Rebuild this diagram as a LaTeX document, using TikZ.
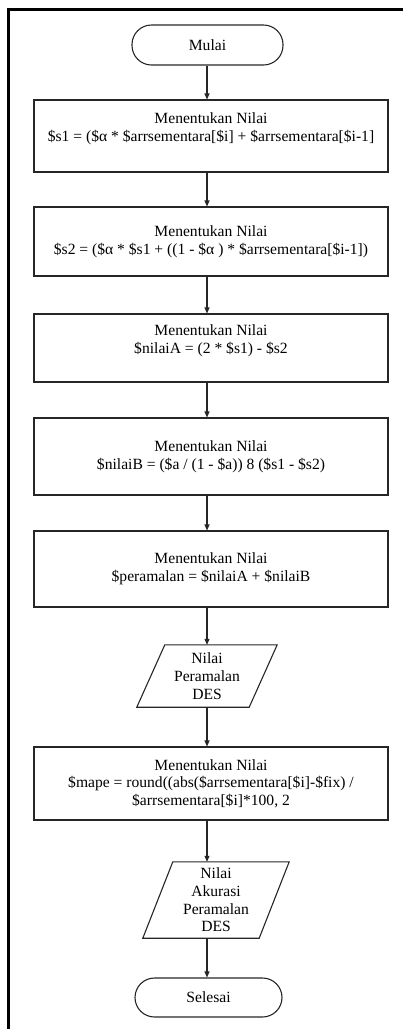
\documentclass[tikz,border=0pt]{standalone}
\usepackage{fontspec}
\setmainfont{Liberation Serif}
\usetikzlibrary{arrows.meta,calc}
\begin{document}
\begin{tikzpicture}[x=1pt,y=-1pt,
  every node/.style={font=\fontsize{15.6}{17.7}\selectfont, inner sep=0pt, align=center, text=black},
  proc/.style={draw=black!85, line width=1.1pt, minimum width=354pt},
  term/.style={draw=black!85, line width=1.1pt, rounded corners=19.5pt},
  pline/.style={draw=black!85, line width=1.1pt},
  arr/.style={draw=black!85, line width=1.1pt, -{Triangle[length=6pt,width=5pt]}},
]
\useasboundingbox (0,0) rectangle (406,1029);
\draw[line width=3pt] (8,1029) -- (8,9) -- (403,9);
\coordinate (ax) at (207,0);

\node[term, minimum width=151pt, minimum height=40pt] (mulai) at (207.5,45) {Mulai};
\node[proc, minimum height=72pt] (b1) at (211,136) {Menentukan Nilai\\ \$s1 = (\$α * \$arrsementara[\$i] + \$arrsementara[\$i-1]\\ ~};
\node[proc, minimum height=69pt] (b2) at (211,241.5) {Menentukan Nilai\\ \$s2 = (\$α * \$s1 + ((1 - \$α ) * \$arrsementara[\$i-1])};
\node[proc, minimum height=68pt] (b3) at (211,348) {Menentukan Nilai\\ \$nilaiA = (2 * \$s1) - \$s2\\ ~};
\node[proc, minimum height=77pt] (b4) at (211,456.5) {Menentukan Nilai\\ \$nilaiB = (\$a / (1 - \$a)) 8 (\$s1 - \$s2)};
\node[proc, minimum height=76pt] (b5) at (211,569) {Menentukan Nilai\\ \$peramalan = \$nilaiA + \$nilaiB};
\node[minimum width=112pt, minimum height=62pt] (p1) at (207,676) {Nilai\\ Peramalan\\ DES};
\draw[pline] ([xshift=-14pt]p1.south west) -- ([xshift=-14pt]p1.south east) -- ([xshift=14pt]p1.north east) -- ([xshift=14pt]p1.north west) -- cycle;
\node[proc, minimum height=73pt] (b6) at (211,783.5) {Menentukan Nilai\\ \$mape = round((abs(\$arrsementara[\$i]-\$fix) /\\ \$arrsementara[\$i]*100, 2};
\node[minimum width=116pt, minimum height=76pt] (p2) at (216,900) {Nilai\\ Akurasi\\ Peramalan\\ DES};
\draw[pline] ([xshift=-15pt]p2.south west) -- ([xshift=-15pt]p2.south east) -- ([xshift=15pt]p2.north east) -- ([xshift=15pt]p2.north west) -- cycle;
\node[term, minimum width=147pt, minimum height=39pt] (selesai) at (208.5,997.5) {Selesai};

\draw[arr] (mulai.south -| ax) -- (b1.north -| ax);
\draw[arr] (b1.south -| ax) -- (b2.north -| ax);
\draw[arr] (b2.south -| ax) -- (b3.north -| ax);
\draw[arr] (b3.south -| ax) -- (b4.north -| ax);
\draw[arr] (b4.south -| ax) -- (b5.north -| ax);
\draw[arr] (b5.south -| ax) -- (p1.north -| ax);
\draw[arr] (p1.south -| ax) -- (b6.north -| ax);
\draw[arr] (b6.south -| ax) -- (p2.north -| ax);
\draw[arr] (p2.south -| ax) -- (selesai.north -| ax);
\end{tikzpicture}
\end{document}
